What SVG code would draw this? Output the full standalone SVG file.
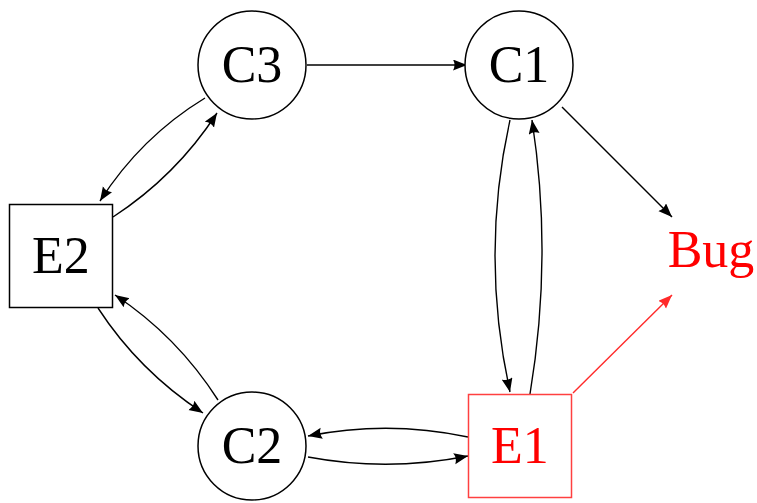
<svg xmlns="http://www.w3.org/2000/svg" width="757" height="503" viewBox="0 0 757 503">
<style>
.node{fill:#fff;stroke:#000;stroke-width:1.5}
.enode{fill:#fff;stroke:#ff4040;stroke-width:1.5}
.lbl{font-family:"Liberation Serif","Times New Roman",serif;font-size:52px;text-anchor:middle;fill:#000}
.red{fill:#ff0000}
.edge{fill:none;stroke:#000;stroke-width:1.4}
.redge{fill:none;stroke:#ff2a2a;stroke-width:1.4}
</style>
<defs>
<marker id="ah" markerUnits="userSpaceOnUse" markerWidth="15" markerHeight="13" refX="14" refY="5.5" orient="auto">
<path d="M0,0 L14,5.5 L0,11 Q3,5.5 0,0 z" fill="#000"/>
</marker>
<marker id="ahr" markerUnits="userSpaceOnUse" markerWidth="15" markerHeight="13" refX="14" refY="5.5" orient="auto">
<path d="M0,0 L14,5.5 L0,11 Q3,5.5 0,0 z" fill="#ff2a2a"/>
</marker>
</defs>
<g id="connectors">
<path class="edge" d="M307,65 L467,65" marker-end="url(#ah)"/>
<path class="edge" d="M205,98 Q141,137 100,201" marker-end="url(#ah)"/>
<path class="edge" d="M113,217 Q176,176 217,113" marker-end="url(#ah)"/>
<path class="edge" d="M98,308 Q139,371 203,413" marker-end="url(#ah)"/>
<path class="edge" d="M218,400 Q177,336 115,295" marker-end="url(#ah)"/>
<path class="edge" d="M468,437 Q388,420 308,436" marker-end="url(#ah)"/>
<path class="edge" d="M308,457 Q388,472 468,456" marker-end="url(#ah)"/>
<path class="edge" d="M510,120 Q480,255 510,392" marker-end="url(#ah)"/>
<path class="edge" d="M530,394 Q553,256 532,120" marker-end="url(#ah)"/>
<path class="edge" d="M562,107 L672,217" marker-end="url(#ah)"/>
<path class="redge" d="M573,393 L672,295" marker-end="url(#ahr)"/>
</g>
<g id="C3">
<circle class="node" cx="252" cy="65" r="54"/>
<text class="lbl" x="252" y="82">C3</text>
</g>
<g id="C1">
<circle class="node" cx="519" cy="65" r="54"/>
<text class="lbl" x="519" y="82">C1</text>
</g>
<g id="C2">
<circle class="node" cx="252" cy="446" r="54"/>
<text class="lbl" x="252" y="463">C2</text>
</g>
<g id="E2">
<rect class="node" x="9.5" y="204.5" width="103" height="103"/>
<text class="lbl" x="61" y="273">E2</text>
</g>
<g id="E1">
<rect class="enode" x="468.5" y="394.5" width="103" height="103"/>
<text class="lbl red" x="520" y="463">E1</text>
</g>
<g id="Bug">
<text class="lbl red" x="711" y="267">Bug</text>
</g>
</svg>
